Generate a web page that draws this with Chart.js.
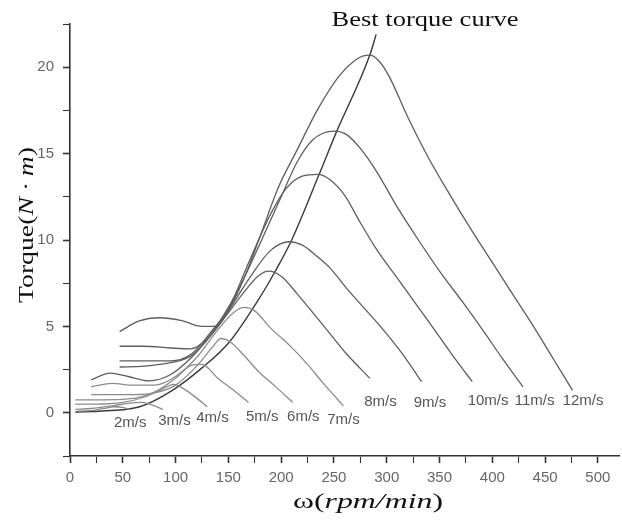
<!DOCTYPE html>
<html>
<head>
<meta charset="utf-8">
<script src="https://cdn.jsdelivr.net/npm/chart.js@4.4.1/dist/chart.umd.min.js"></script>
<style>
    body { margin: 0; background: #fff; }
    canvas { display: block; }
</style>
</head>
<body>
<canvas id="torque-chart" width="622" height="525"></canvas>
<script>
// torque vs rotor speed for each wind speed
const omega2 = [8, 20, 32, 42, 50, 56];
const torque2 = [0.1, 0.12, 0.25, 0.35, 0.32, 0.2];

const omega3 = [5, 20, 40, 55, 68, 78, 88];
const torque3 = [0.2, 0.25, 0.4, 0.55, 0.6, 0.45, 0.2];

const omega4 = [5, 25, 50, 70, 88, 98, 110, 120, 130];
const torque4 = [0.5, 0.5, 0.6, 0.9, 1.4, 1.65, 1.3, 0.85, 0.35];

const omega5 = [5, 30, 55, 80, 100, 115, 125, 140, 155, 169];
const torque5 = [0.75, 0.75, 0.8, 1.2, 2.0, 2.75, 2.8, 2.0, 1.3, 0.6];

const omega6 = [20, 40, 60, 80, 100, 120, 135, 143, 152, 165, 180, 195, 211];
const torque6 = [1.05, 1.05, 1.05, 1.15, 1.6, 2.7, 3.8, 4.3, 4.1, 3.3, 2.3, 1.5, 0.6];

const omega7 = [20, 40, 60, 80, 100, 120, 140, 155, 165, 175, 190, 208, 225, 240, 259];
const torque7 = [1.5, 1.7, 1.6, 1.6, 2.1, 3.2, 4.8, 5.8, 6.1, 5.9, 4.9, 3.9, 2.8, 1.7, 0.4];

const omega8 = [20, 38, 55, 75, 95, 115, 135, 150, 165, 178, 188, 200, 215, 230, 246, 262, 284];
const torque8 = [1.9, 2.3, 2.1, 1.85, 2.2, 3.2, 4.6, 5.8, 7.0, 7.9, 8.2, 7.9, 6.9, 5.8, 4.6, 3.4, 2.0];

const omega9 = [47, 70, 95, 115, 135, 150, 170, 190, 208, 220, 235, 246, 262, 278, 294, 315, 333];
const torque9 = [2.65, 2.7, 2.9, 3.3, 4.6, 5.9, 7.8, 9.4, 9.9, 9.7, 9.0, 8.4, 7.2, 6.1, 5.0, 3.4, 1.8];

const omega10 = [47, 70, 95, 115, 135, 150, 170, 190, 205, 220, 235, 246, 260, 275, 291, 310, 330, 350, 365, 381];
const torque10 = [3.0, 3.0, 3.0, 3.4, 4.8, 6.0, 8.8, 11.5, 13.0, 13.7, 13.8, 13.5, 12.6, 11.0, 9.4, 7.8, 6.1, 4.4, 3.1, 1.8];

const omega11 = [47, 70, 95, 114, 130, 145, 160, 180, 200, 215, 230, 250, 262, 275, 290, 310, 330, 350, 372, 392, 410, 429];
const torque11 = [3.85, 3.85, 3.75, 3.7, 4.3, 5.6, 7.2, 9.8, 12.5, 14.5, 15.8, 16.3, 16.1, 15.3, 14.0, 11.9, 10.0, 8.2, 6.4, 4.7, 3.1, 1.5];

const omega12 = [47, 65, 85, 105, 125, 138, 150, 165, 180, 197, 215, 235, 255, 270, 278, 284, 292, 302, 320, 340, 360, 380, 400, 420, 440, 458, 476];
const torque12 = [4.7, 5.3, 5.5, 5.35, 5.0, 5.0, 5.9, 7.8, 10.2, 13.0, 15.2, 17.6, 19.5, 20.4, 20.65, 20.7, 20.4, 19.5, 17.1, 14.7, 12.6, 10.6, 8.7, 6.8, 4.9, 3.1, 1.3];

// best torque curve through the peaks
const omegaBest = [5, 30, 66, 97, 125, 151, 178, 194, 210, 236, 252, 284, 290];
const torqueBest = [0.05, 0.1, 0.35, 1.3, 2.6, 4.1, 6.5, 8.15, 10.0, 13.8, 16.2, 20.7, 21.9];

// wind speed labels at the end of each curve
const speedLabels = ["2m/s", "3m/s", "4m/s", "5m/s", "6m/s", "7m/s", "8m/s", "9m/s", "10m/s", "11m/s", "12m/s"];
const labelOmega = [57, 99, 135, 182, 221, 259, 294, 341, 396, 440, 486];
const labelTorque = [-0.6, -0.48, -0.3, -0.25, -0.25, -0.42, 0.62, 0.56, 0.68, 0.68, 0.68];

// axis ticks (every other one carries a label)
const xTicks = [0, 25, 50, 75, 100, 125, 150, 175, 200, 225, 250, 275, 300, 325, 350, 375, 400, 425, 450, 475, 500];
const yTicks = [-2.5, 0, 2.5, 5, 7.5, 10, 12.5, 15, 17.5, 20, 22.5];

const curves = [
    [omega2, torque2], [omega3, torque3], [omega4, torque4], [omega5, torque5],
    [omega6, torque6], [omega7, torque7], [omega8, torque8], [omega9, torque9],
    [omega10, torque10], [omega11, torque11], [omega12, torque12],
];

function toPoints(xs, ys) {
    return xs.map((x, i) => ({ x: x, y: ys[i] }));
}

const datasets = curves.map((c, i) => ({
    label: speedLabels[i],
    data: toPoints(c[0], c[1]),
    borderColor: i < 6 ? "#8c8c8c" : "#5e5e5e",
    borderWidth: 1.3,
}));
datasets.push({
    label: "Best torque curve",
    data: toPoints(omegaBest, torqueBest),
    borderColor: "#3a3a3a",
    borderWidth: 1.4,
});

// draw a run of text pieces (some italic), squeezed/stretched to a given width
function drawMixed(ctx, parts, cx, baseline, width) {
    let total = 0;
    parts.forEach((p) => {
        ctx.font = p.font;
        p.w = ctx.measureText(p.text).width;
        total += p.w;
    });
    const sx = width ? width / total : 1;
    ctx.save();
    ctx.translate(cx - (total * sx) / 2, baseline);
    ctx.scale(sx, 1);
    let x = 0;
    parts.forEach((p) => {
        ctx.font = p.font;
        ctx.fillText(p.text, x, 0);
        x += p.w;
    });
    ctx.restore();
}

const serif = "'Liberation Serif', 'Times New Roman', serif";

const annotations = {
    id: "annotations",
    afterDraw(chart) {
        const ctx = chart.ctx;
        const xs = chart.scales.x;
        const ys = chart.scales.y;
        ctx.save();

        // wind speed labels
        ctx.font = "15px 'Liberation Sans', Arial, sans-serif";
        ctx.fillStyle = "#555";
        ctx.textAlign = "center";
        ctx.textBaseline = "middle";
        speedLabels.forEach((t, i) => {
            ctx.fillText(t, xs.getPixelForValue(labelOmega[i]), ys.getPixelForValue(labelTorque[i]));
        });

        ctx.textAlign = "left";
        ctx.textBaseline = "alphabetic";
        ctx.fillStyle = "#111";

        // curve name at the top
        drawMixed(ctx, [{ text: "Best torque curve", font: "22px " + serif }], 425, 26, 187);

        // x axis title
        drawMixed(ctx, [
            { text: "ω(", font: "21px " + serif },
            { text: "rpm/min", font: "italic 21px " + serif },
            { text: ")", font: "21px " + serif },
        ], 368, 508, 150);

        // y axis title
        ctx.translate(33, 225);
        ctx.rotate(-Math.PI / 2);
        drawMixed(ctx, [
            { text: "Torque(", font: "21px " + serif },
            { text: "N · m", font: "italic 21px " + serif },
            { text: ")", font: "21px " + serif },
        ], 0, 0, 156);

        ctx.restore();
    },
};

const tickFont = { size: 15, family: "'Liberation Sans', Arial, sans-serif" };

new Chart(document.getElementById("torque-chart"), {
    type: "scatter",
    data: { datasets: datasets },
    options: {
        responsive: false,
        animation: false,
        showLine: true,
        elements: {
            point: { radius: 0 },
            line: { cubicInterpolationMode: "monotone", fill: false },
        },
        layout: { padding: { top: 24, right: 3, left: 0, bottom: 0 } },
        plugins: {
            legend: { display: false },
            tooltip: { enabled: false },
        },
        scales: {
            x: {
                type: "linear",
                min: 0,
                max: 520,
                border: { color: "#333", width: 1.6 },
                grid: {
                    drawOnChartArea: false,
                    drawTicks: true,
                    tickLength: 7,
                    tickColor: "#333",
                    tickWidth: (c) => (c.tick && c.tick.value % 50 === 0 ? 1.6 : 1.1),
                },
                afterBuildTicks: (s) => {
                    s.ticks = xTicks.map((v) => ({ value: v }));
                },
                ticks: {
                    autoSkip: false,
                    maxRotation: 0,
                    padding: 6,
                    color: "#666",
                    font: tickFont,
                    callback: (v) => (v % 50 === 0 ? v : ""),
                },
                afterFit: (s) => {
                    s.height = 69;
                },
            },
            y: {
                type: "linear",
                min: -2.5,
                max: 22.5,
                border: { color: "#333", width: 1.6 },
                grid: {
                    drawOnChartArea: false,
                    drawTicks: true,
                    tickLength: 7,
                    tickColor: "#333",
                    tickWidth: (c) => (c.tick && c.tick.value % 5 === 0 ? 1.6 : 1.1),
                },
                afterBuildTicks: (s) => {
                    s.ticks = yTicks.map((v) => ({ value: v }));
                },
                ticks: {
                    autoSkip: false,
                    padding: 9,
                    color: "#666",
                    font: tickFont,
                    callback: (v) => (v % 5 === 0 ? v : ""),
                },
                afterFit: (s) => {
                    s.width = 70;
                },
            },
        },
    },
    plugins: [annotations],
});
</script>
</body>
</html>
